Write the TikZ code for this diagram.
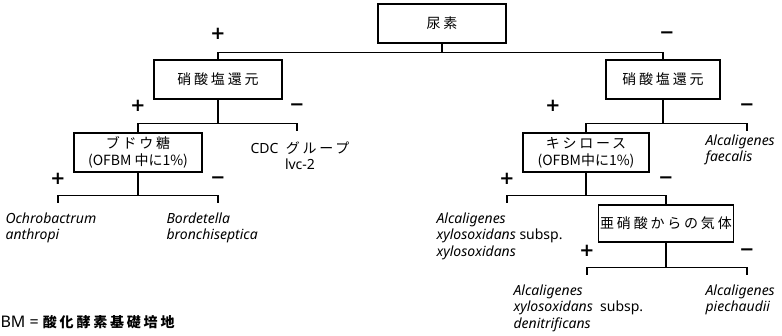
\documentclass[tikz,border=0pt]{standalone}
\usepackage{fontspec}
\setmainfont{Noto Sans}
\newfontfamily\jp[LetterSpace=20]{Noto Sans CJK JP}
\newfontfamily\jpn{Noto Sans CJK JP}
\newfontfamily\sgn{DejaVu Sans}
\usetikzlibrary{positioning}

\begin{document}
\begin{tikzpicture}[x=1pt,y=-1pt,line width=1.1pt,
  box/.style={draw,minimum height=39pt,inner sep=2pt,align=center,font=\jp\fontsize{14}{17}\selectfont},
  leaf/.style={anchor=north west,inner sep=0pt,align=left,font=\fontsize{14}{16.5}\selectfont\itshape},
  sign/.style={inner sep=0pt,text height=0.6em,text depth=0pt,font=\sgn\fontsize{18}{18}\selectfont\bfseries}]
\useasboundingbox (0,0) rectangle (782,335);
\node[box,minimum width=128pt] (urea) at (442,23.5) {尿素};
\node[box,minimum width=128pt] (nrL) at (218,79.5) {硝酸塩還元};
\node[box,minimum width=114pt] (nrR) at (663,79.5) {硝酸塩還元};
\node[box,minimum width=128pt] (glu) at (138,152.5) {ブドウ糖\\{\jpn (OFBM 中に1\%)}};
\node[box,minimum width=126pt] (xyl) at (586,152.5) {キシロース\\{\jpn (OFBM中に1\%)}};
\node[box,minimum width=126pt,minimum height=37pt] (gas) at (666,223.5) {亜硝酸からの気体};

\coordinate (cdcT) at (297,131);
\coordinate (faeT) at (747,131);
\coordinate (ochT) at (58,203);
\coordinate (borT) at (218,203);
\coordinate (axxT) at (507,203);
\coordinate (denT) at (587,275);
\coordinate (pieT) at (747,275);

\node[anchor=north,inner sep=0pt,align=center,font=\fontsize{14}{16}\selectfont] (cdc) at (300,141) {CDC\ \ {\jp グループ}\\lvc-2};
\node[leaf] (fae) at (705,134) {Alcaligenes\\faecalis};
\node[leaf] (och) at (5,212) {Ochrobactrum\\anthropi};
\node[leaf] (bor) at (166,212) {Bordetella\\bronchiseptica};
\node[leaf] (axx) at (436,212) {Alcaligenes\\xylosoxidans {\upshape subsp.}\\xylosoxidans};
\node[leaf] (den) at (513,284) {Alcaligenes\\xylosoxidans\ \ {\upshape subsp.}\\denitrificans};
\node[leaf] (pie) at (705,284) {Alcaligenes\\piechaudii};

\draw (urea.south) -- ++(0,8.5) coordinate (uj) -| (nrL.north);
\draw (uj) -| (nrR.north);
\draw (nrL.south) -- ++(0,24) coordinate (lj) -| (glu.north);
\draw (lj) -| (cdcT);
\draw (nrR.south) -- ++(0,24) coordinate (rj) -| (xyl.north);
\draw (rj) -| (faeT);
\draw (glu.south) -- ++(0,23) coordinate (gj) -| (ochT);
\draw (gj) -| (borT);
\draw (xyl.south) -- ++(0,23) coordinate (xj) -| (axxT);
\draw (xj) -| (gas.north);
\draw (gas.south) -- ++(0,25) coordinate (aj) -| (denT);
\draw (aj) -| (pieT);

\node[sign] (p1) at (218,36) {+};
\node[sign] (m1) at (667,35) {−};
\node[sign] (p2) at (138,108) {+};
\node[sign] (m2) at (297,107) {−};
\node[sign] (p3) at (553,108) {+};
\node[sign] (m3) at (747,107) {−};
\node[sign] (p4) at (58,181) {+};
\node[sign] (m4) at (218,180) {−};
\node[sign] (p5) at (507,181) {+};
\node[sign] (m5) at (666,180) {−};
\node[sign] (p6) at (587,253) {+};
\node[sign] (m6) at (747,252) {−};

\node[anchor=base west,inner sep=0pt,font=\fontsize{16}{18}\selectfont] (note) at (0,327) {BM = {\jp\bfseries\fontsize{14}{16}\selectfont 酸化酵素基礎培地}};
\end{tikzpicture}
\end{document}
